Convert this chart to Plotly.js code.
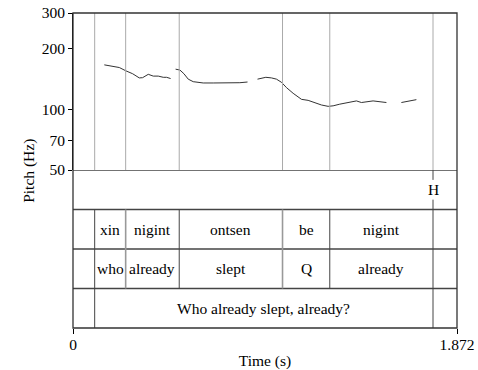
<!DOCTYPE html>
<html><head><meta charset="utf-8">
<script src="https://cdn.plot.ly/plotly-3.0.1.min.js"></script>
<style>html,body{margin:0;padding:0;background:#fff}#c{width:478px;height:370px}</style>
</head><body><div id="c"></div>
<script>
// Pitch track (time s, pitch Hz); null separates unvoiced gaps
const times = [0.1526,0.1883,0.2257,0.2582,0.2906,0.3231,0.3393,0.3669,0.3913,0.4157,0.4400,0.4562,0.4757,null,
  0.5001,0.5212,0.5407,0.5618,0.5861,0.6348,0.6835,0.7323,0.7810,0.8134,0.8508,null,
  0.8995,0.9190,0.9401,0.9677,0.9920,1.0164,1.0408,1.0732,1.1138,1.1463,1.1788,1.2112,1.2437,1.2681,1.3005,1.3492,1.3817,1.4061,1.4629,1.5279,null,
  1.6009,1.6253,1.6496,1.6740];
const pitch = [166,164,161,155,150,143,143.4,149,146,146,144,144,142,null,
  158,156.5,150,141,137,135,135,135,135,135.4,136.5,null,
  141,142,144,143,141,136,128,120,112,110.7,108,105,103.4,104,106,108,110,108,110,108,null,
  108,109,110.7,111.6];
const boundaries = [0.1057,0.2567,0.5178,1.0214,1.2518,1.755];
const greyBoundaries = [0.2567,1.0214];
const wordsMongolian = ["xin","nigint","ontsen","be","nigint"];
const wordsGloss = ["who","already","slept","Q","already"];
const sentence = "Who already slept, already?";
const toneTimes = [1.755];
const toneLabels = ["H"];
const xMax = 1.872;
const yTicks = [50,70,100,200,300];

const F = 'Liberation Serif, Times New Roman, serif';
const FS = 15.5;
const shapes = [];
const annotations = [];
// vertical boundary lines through pitch area
boundaries.forEach(b => shapes.push({type:'line',xref:'x',yref:'paper',x0:b,x1:b,y0:0.5016,y1:1,line:{color:'#aaaaaa',width:1}}));
// tier horizontal lines
[1,2,3,4].forEach(v => shapes.push({type:'line',xref:'paper',yref:'y2',x0:0,x1:1,y0:v,y1:v,line:{color:'#444',width:1.3}}));
// tiers 2 & 3 boundaries
boundaries.forEach(b => {
  const g = greyBoundaries.includes(b);
  shapes.push({type:'line',xref:'x',yref:'y2',x0:b,x1:b,y0:1,y1:3,line:{color:g?'#999999':'#444',width:g?1.6:1}});
});
// tier 4 boundaries
[boundaries[0],boundaries[boundaries.length-1]].forEach(b =>
  shapes.push({type:'line',xref:'x',yref:'y2',x0:b,x1:b,y0:0,y1:1,line:{color:'#444',width:1}}));
// point tier marks
toneTimes.forEach((t,i) => {
  shapes.push({type:'line',xref:'x',yref:'y2',x0:t,x1:t,y0:3.75,y1:4,line:{color:'#444',width:1}});
  shapes.push({type:'line',xref:'x',yref:'y2',x0:t,x1:t,y0:3,y1:3.25,line:{color:'#444',width:1}});
  annotations.push({x:t,y:3.5,xref:'x',yref:'y2',text:toneLabels[i],showarrow:false,font:{family:F,size:FS,color:'#000'}});
});
// outer box
shapes.push({type:'rect',xref:'paper',yref:'paper',x0:0,x1:1,y0:0,y1:1,line:{color:'#333',width:1.3}});
// word labels
for (let i=0;i<wordsMongolian.length;i++){
  const m=(boundaries[i]+boundaries[i+1])/2;
  annotations.push({x:m,y:2.5,xref:'x',yref:'y2',text:wordsMongolian[i],showarrow:false,font:{family:F,size:FS,color:'#000'}});
  annotations.push({x:m,y:1.5,xref:'x',yref:'y2',text:wordsGloss[i],showarrow:false,font:{family:F,size:FS,color:'#000'}});
}
annotations.push({x:(boundaries[0]+boundaries[boundaries.length-1])/2,y:0.5,xref:'x',yref:'y2',text:sentence,showarrow:false,font:{family:F,size:FS,color:'#000'}});
annotations.push({x:-0.145,y:0.5,xref:'paper',yref:'paper',text:'Pitch (Hz)',textangle:-90,showarrow:false,font:{family:F,size:FS,color:'#000'}});

const trace = {x:times,y:pitch,type:'scatter',mode:'lines',connectgaps:false,line:{color:'#333',width:1},hoverinfo:'skip'};
const layout = {
  width:478,height:370,margin:{l:73,r:21,t:13,b:42},
  paper_bgcolor:'#fff',plot_bgcolor:'#fff',showlegend:false,
  font:{family:F,size:FS,color:'#000'},
  xaxis:{range:[0,xMax],anchor:'y2',tickvals:[0,xMax],ticktext:['0','1.872'],ticks:'outside',ticklen:5,tickcolor:'#000',ticklabelstandoff:-3,
    showgrid:false,zeroline:false,showline:false,title:{text:'Time (s)',font:{family:F,size:FS},standoff:4},tickfont:{family:F,size:FS}},
  yaxis:{type:'log',domain:[0.5016,1],range:[Math.log10(50),Math.log10(300)],tickvals:yTicks,ticktext:yTicks.map(String),
    ticks:'outside',ticklen:4,tickcolor:'#000',showgrid:false,zeroline:false,showline:true,linecolor:'#000',linewidth:1,tickfont:{family:F,size:FS},anchor:'x'},
  yaxis2:{domain:[0,0.5016],range:[0,4],showticklabels:false,ticks:'',showgrid:false,zeroline:false,showline:false,anchor:'x'},
  shapes:shapes,annotations:annotations
};
Plotly.newPlot('c',[trace],layout,{staticPlot:true,displayModeBar:false});
</script></body></html>
